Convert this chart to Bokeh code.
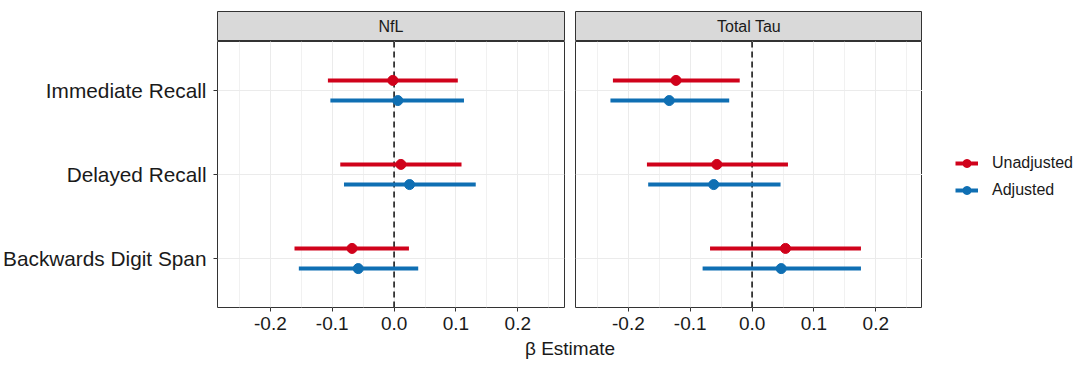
from bokeh.plotting import figure
from bokeh.models import (FactorRange, Range1d, ColumnDataSource, SingleIntervalTicker,
                          PrintfTickFormatter, Legend, LegendItem, Span, Label)
from bokeh.transform import dodge
from bokeh.layouts import row, column
from bokeh.embed import file_html
from bokeh.resources import INLINE

# ---------------- data ----------------
outcomes = ["Immediate Recall", "Delayed Recall", "Backwards Digit Span"]
panels = ["NfL", "Total Tau"]
series = ["Unadjusted", "Adjusted"]

nfl_unadj_est = [-0.002, 0.011, -0.068]
nfl_unadj_lo = [-0.107, -0.087, -0.161]
nfl_unadj_hi = [0.103, 0.109, 0.024]
nfl_adj_est = [0.006, 0.025, -0.058]
nfl_adj_lo = [-0.103, -0.081, -0.154]
nfl_adj_hi = [0.113, 0.132, 0.039]

tau_unadj_est = [-0.123, -0.057, 0.054]
tau_unadj_lo = [-0.225, -0.170, -0.068]
tau_unadj_hi = [-0.020, 0.058, 0.176]
tau_adj_est = [-0.134, -0.062, 0.047]
tau_adj_lo = [-0.229, -0.168, -0.080]
tau_adj_hi = [-0.037, 0.046, 0.176]

x_limits = (-0.26, 0.25)
x_tick_interval = 0.1
x_label = "β Estimate"

# ---------------- style ----------------
FONT = "Liberation Sans"
RED = "#D0021B"
BLUE = "#0F6FB3"
DARK = "#333333"
TEXT = "#1A1A1A"
GRID = "#EBEBEB"

span_x = x_limits[1] - x_limits[0]
x_start = x_limits[0] - 0.05 * span_x
x_end = x_limits[1] + 0.05 * span_x

FRAME_W = 347
FRAME_H = 266
LEFT = 217
GAP = 11
STRIP_H = 30
STRIP_TOP = 11
BOTTOM = 32
LEG_W = 158
NAN = float("nan")


def make_strip(text, left, right):
    s = figure(frame_width=FRAME_W, frame_height=STRIP_H, x_range=Range1d(0, 1), y_range=Range1d(0, 1),
               x_axis_location=None, y_axis_location=None, toolbar_location=None,
               output_backend="svg", min_border_left=left, min_border_right=right,
               min_border_top=STRIP_TOP, min_border_bottom=0)
    s.grid.visible = False
    s.background_fill_color = "#D9D9D9"
    s.outline_line_color = DARK
    s.outline_line_width = 1
    s.add_layout(Label(x=0.5, y=0.5, text=text, text_align="center", text_baseline="middle",
                       text_font=FONT, text_font_size="16px", text_color=TEXT))
    return s


def make_panel(est_u, lo_u, hi_u, est_a, lo_a, hi_a, show_y, right):
    factors = list(reversed(outcomes))
    yr = FactorRange(factors=factors, range_padding=0.083, range_padding_units="absolute")
    p = figure(frame_width=FRAME_W, frame_height=FRAME_H, x_range=Range1d(x_start, x_end), y_range=yr,
               toolbar_location=None, output_backend="svg",
               y_axis_location="left" if show_y else None,
               min_border_left=LEFT if show_y else 0, min_border_right=right,
               min_border_top=0, min_border_bottom=BOTTOM)
    p.outline_line_color = DARK
    p.outline_line_width = 1
    p.background_fill_color = "white"

    p.xaxis.ticker = SingleIntervalTicker(interval=x_tick_interval, num_minor_ticks=2)
    p.xaxis.formatter = PrintfTickFormatter(format="%.1f")
    for ax in p.axis:
        ax.axis_line_color = None
        ax.major_tick_line_color = DARK
        ax.major_tick_out = 4
        ax.major_tick_in = 0
        ax.minor_tick_line_color = None
        ax.major_label_text_font = FONT
        ax.major_label_text_color = TEXT
    p.xaxis.major_label_text_font_size = "19px"
    p.xaxis.major_label_standoff = 5
    if show_y:
        p.yaxis.major_label_text_font_size = "20.8px"
        p.yaxis.major_label_standoff = 7

    p.xgrid.grid_line_color = GRID
    p.xgrid.grid_line_width = 1
    p.xgrid.minor_grid_line_color = "#F1F1F1"
    p.xgrid.minor_grid_line_width = 1
    p.ygrid.grid_line_color = GRID
    p.ygrid.grid_line_width = 1

    p.add_layout(Span(location=0, dimension="height", line_color=DARK, line_width=1.8,
                      line_dash="6 4", level="underlay"))

    src_u = ColumnDataSource(dict(y=outcomes, est=est_u, lo=lo_u, hi=hi_u))
    src_a = ColumnDataSource(dict(y=outcomes, est=est_a, lo=lo_a, hi=hi_a))
    for src, col, off in ((src_u, RED, 0.12), (src_a, BLUE, -0.12)):
        yd = dodge("y", off, range=yr)
        p.segment(x0="lo", x1="hi", y0=yd, y1=yd, source=src, line_color=col, line_width=4)
        p.scatter(x="est", y=yd, source=src, size=10, fill_color=col, line_color=col)
    return p


strip1 = make_strip(panels[0], LEFT, GAP)
strip2 = make_strip(panels[1], 0, 0)
p1 = make_panel(nfl_unadj_est, nfl_unadj_lo, nfl_unadj_hi, nfl_adj_est, nfl_adj_lo, nfl_adj_hi, True, GAP)
p2 = make_panel(tau_unadj_est, tau_unadj_lo, tau_unadj_hi, tau_adj_est, tau_adj_lo, tau_adj_hi, False, 0)

# legend panel (keys styled like the marks; key sources hold no visible points)
lg = figure(frame_width=LEG_W, frame_height=FRAME_H, x_range=Range1d(0, 1), y_range=Range1d(0, 1),
            x_axis_location=None, y_axis_location=None, toolbar_location=None, output_backend="svg",
            min_border_left=0, min_border_right=0, min_border_top=STRIP_TOP + STRIP_H, min_border_bottom=BOTTOM)
lg.grid.visible = False
lg.outline_line_color = None
items = []
for name, col in zip(series, (RED, BLUE)):
    key = ColumnDataSource(dict(x0=[NAN], x1=[NAN], y=[NAN]))
    seg = lg.segment(x0="x0", x1="x1", y0="y", y1="y", source=key, line_color=col, line_width=4)
    pt = lg.scatter(x="x0", y="y", source=key, size=10, fill_color=col, line_color=col)
    items.append(LegendItem(label=name, renderers=[seg, pt]))
legend = Legend(items=items, location=(33, 107), orientation="vertical",
                label_text_font=FONT, label_text_font_size="16px", label_text_color=TEXT,
                glyph_width=23, glyph_height=20, label_standoff=14, spacing=7,
                padding=0, margin=0, border_line_color=None, background_fill_alpha=0)
lg.add_layout(legend)

xl = figure(frame_width=2 * FRAME_W + GAP, frame_height=27, x_range=Range1d(0, 1), y_range=Range1d(0, 1),
            x_axis_location=None, y_axis_location=None, toolbar_location=None, output_backend="svg",
            min_border_left=LEFT, min_border_right=0, min_border_top=0, min_border_bottom=0)
xl.grid.visible = False
xl.outline_line_color = None
xl.add_layout(Label(x=0.5, y=0.65, text=x_label, text_align="center", text_baseline="middle",
                    text_font=FONT, text_font_size="19px", text_color=TEXT))

layout = column(row(column(strip1, p1), column(strip2, p2), lg), xl)

open("out.html", "w").write(file_html(layout, INLINE))
